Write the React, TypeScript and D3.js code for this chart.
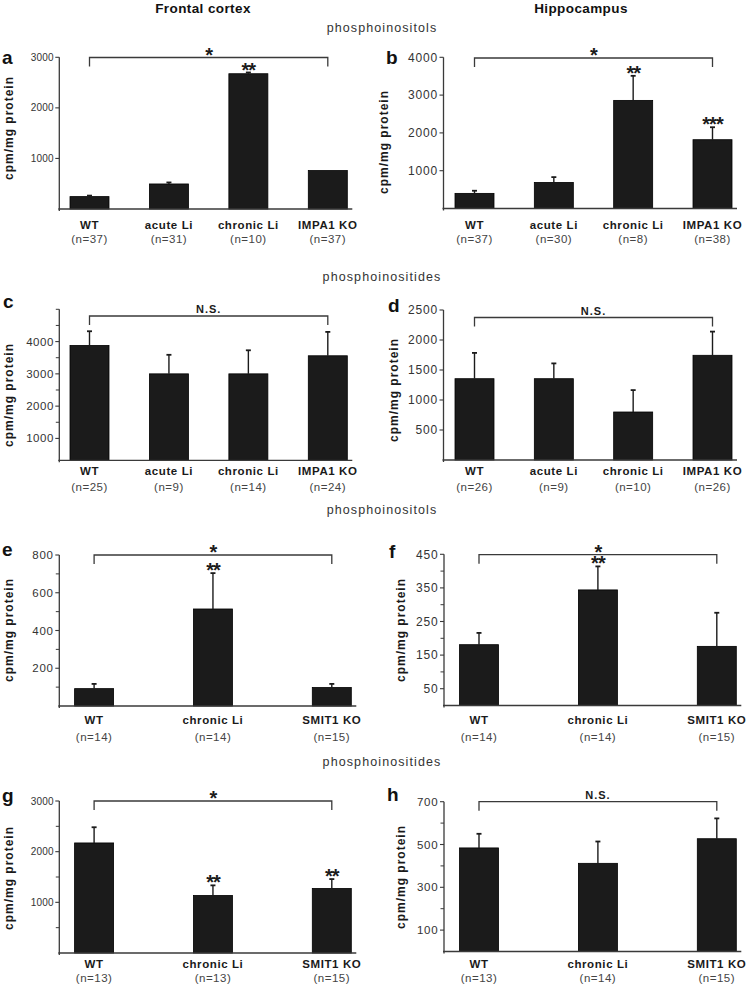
import React from "react";
import * as d3 from "d3";

const FONT = "'Liberation Sans', Arial, Helvetica, sans-serif";

const columnTitles = ["Frontal cortex", "Hippocampus"];
const sectionTitles = ["phosphoinositols", "phosphoinositides", "phosphoinositols", "phosphoinositides"];

// Panel a – frontal cortex phosphoinositols
const aCategories = ["WT", "acute Li", "chronic Li", "IMPA1 KO"];
const aN = ["(n=37)", "(n=31)", "(n=10)", "(n=37)"];
const aValues = [245, 495, 2675, 760];
const aErrors = [20, 30, 25, 0];
const aStars = ["", "", "**", ""];
const aTicks = [1000, 2000, 3000];
const aMinor: number[] = [];

// Panel b – hippocampus phosphoinositols
const bCategories = ["WT", "acute Li", "chronic Li", "IMPA1 KO"];
const bN = ["(n=37)", "(n=30)", "(n=8)", "(n=38)"];
const bValues = [400, 690, 2860, 1820];
const bErrors = [70, 140, 650, 330];
const bStars = ["", "", "**", "***"];
const bTicks = [1000, 2000, 3000, 4000];
const bMinor: number[] = [];

// Panel c – frontal cortex phosphoinositides
const cCategories = ["WT", "acute Li", "chronic Li", "IMPA1 KO"];
const cN = ["(n=25)", "(n=9)", "(n=14)", "(n=24)"];
const cValues = [3880, 3000, 3000, 3560];
const cErrors = [440, 590, 730, 740];
const cStars = ["", "", "", ""];
const cTicks = [1000, 2000, 3000, 4000];
const cMinor = [1500, 2500, 3500, 4500, 5000];

// Panel d – hippocampus phosphoinositides
const dCategories = ["WT", "acute Li", "chronic Li", "IMPA1 KO"];
const dN = ["(n=26)", "(n=9)", "(n=10)", "(n=26)"];
const dValues = [1355, 1355, 800, 1745];
const dErrors = [430, 255, 365, 395];
const dStars = ["", "", "", ""];
const dTicks = [500, 1000, 1500, 2000, 2500];
const dMinor: number[] = [];

// Panel e – frontal cortex phosphoinositols (SMIT1)
const eCategories = ["WT", "chronic Li", "SMIT1 KO"];
const eN = ["(n=14)", "(n=14)", "(n=15)"];
const eValues = [92, 514, 98];
const eErrors = [25, 190, 19];
const eStars = ["", "**", ""];
const eTicks = [200, 400, 600, 800];
const eMinor = [100, 300, 500, 700];

// Panel f – hippocampus phosphoinositols (SMIT1)
const fCategories = ["WT", "chronic Li", "SMIT1 KO"];
const fN = ["(n=14)", "(n=14)", "(n=15)"];
const fValues = [181, 344, 176];
const fErrors = [35, 70, 100];
const fStars = ["", "**", ""];
const fTicks = [50, 150, 250, 350, 450];
const fMinor = [100, 200, 300, 400];

// Panel g – frontal cortex phosphoinositides (SMIT1)
const gCategories = ["WT", "chronic Li", "SMIT1 KO"];
const gN = ["(n=13)", "(n=13)", "(n=15)"];
const gValues = [2172, 1135, 1274];
const gErrors = [310, 200, 185];
const gStars = ["", "**", "**"];
const gTicks = [1000, 2000, 3000];
const gMinor = [500, 1500, 2500];

// Panel h – hippocampus phosphoinositides (SMIT1)
const hCategories = ["WT", "chronic Li", "SMIT1 KO"];
const hN = ["(n=13)", "(n=14)", "(n=15)"];
const hValues = [484, 412, 527];
const hErrors = [66, 102, 95];
const hStars = ["", "", ""];
const hTicks = [100, 300, 500, 700];
const hMinor = [200, 400, 600];

type PanelCfg = {
  letter: string;
  categories: string[];
  ns: string[];
  values: number[];
  errors: number[];
  stars: string[];
  bracketLabel: string;
  domain: [number, number];
  ticks: number[];
  minor: number[];
  axisX: number;
  topY: number;
  baseY: number;
  firstX: number;
  lastX: number;
  bracketY: number;
  tickFont: number;
  tickLs: number;
  letterX: number;
  letterY: number;
  labelX: number;
  labelY: number;
  nameY: number;
  nY: number;
};

const L = { axisX: 59.3, firstX: 89.5, lastX: 327.8 };
const R = { axisX: 443.5, firstX: 474.5, lastX: 712.5 };
const L3 = { axisX: 59.3, firstX: 94.1, lastX: 331.8 };
const R3 = { axisX: 444, firstX: 479, lastX: 716.8 };

const panels: PanelCfg[] = [
  { letter: "a", categories: aCategories, ns: aN, values: aValues, errors: aErrors, stars: aStars, bracketLabel: "*",
    domain: [0, 3000], ticks: aTicks, minor: aMinor, ...L, topY: 57.3, baseY: 209, bracketY: 57.5,
    tickFont: 10, tickLs: 0.2, letterX: 2, letterY: 64, labelX: 12.6, labelY: 128, nameY: 228.5, nY: 243 },
  { letter: "b", categories: bCategories, ns: bN, values: bValues, errors: bErrors, stars: bStars, bracketLabel: "*",
    domain: [0, 4000], ticks: bTicks, minor: bMinor, ...R, topY: 57.3, baseY: 208.5, bracketY: 58,
    tickFont: 12, tickLs: 0.8, letterX: 386, letterY: 64, labelX: 387.5, labelY: 142, nameY: 228.5, nY: 243 },
  { letter: "c", categories: cCategories, ns: cN, values: cValues, errors: cErrors, stars: cStars, bracketLabel: "N.S.",
    domain: [322, 5000], ticks: cTicks, minor: cMinor, ...L, topY: 309.3, baseY: 460.3, bracketY: 316,
    tickFont: 11.5, tickLs: 0.5, letterX: 3, letterY: 307.5, labelX: 12.6, labelY: 395, nameY: 474.5, nY: 490.5 },
  { letter: "d", categories: dCategories, ns: dN, values: dValues, errors: dErrors, stars: dStars, bracketLabel: "N.S.",
    domain: [0, 2500], ticks: dTicks, minor: dMinor, ...R, topY: 310, baseY: 460, bracketY: 317.5,
    tickFont: 12, tickLs: 0.8, letterX: 388, letterY: 312, labelX: 397.6, labelY: 390, nameY: 474.5, nY: 490.5 },
  { letter: "e", categories: eCategories, ns: eN, values: eValues, errors: eErrors, stars: eStars, bracketLabel: "*",
    domain: [0, 800], ticks: eTicks, minor: eMinor, ...L3, topY: 555, baseY: 706, bracketY: 555,
    tickFont: 11.5, tickLs: 0.8, letterX: 2, letterY: 556, labelX: 12.6, labelY: 630, nameY: 724, nY: 740.5 },
  { letter: "f", categories: fCategories, ns: fN, values: fValues, errors: fErrors, stars: fStars, bracketLabel: "*",
    domain: [0, 450], ticks: fTicks, minor: fMinor, ...R3, topY: 554.3, baseY: 705.5, bracketY: 554.7,
    tickFont: 12, tickLs: 0.8, letterX: 389, letterY: 558, labelX: 405, labelY: 630, nameY: 724, nY: 740.5 },
  { letter: "g", categories: gCategories, ns: gN, values: gValues, errors: gErrors, stars: gStars, bracketLabel: "*",
    domain: [0, 3000], ticks: gTicks, minor: gMinor, ...L3, topY: 801, baseY: 953, bracketY: 801,
    tickFont: 10, tickLs: 0.2, letterX: 2, letterY: 801.5, labelX: 12.6, labelY: 878, nameY: 967.5, nY: 982 },
  { letter: "h", categories: hCategories, ns: hN, values: hValues, errors: hErrors, stars: hStars, bracketLabel: "N.S.",
    domain: [0, 700], ticks: hTicks, minor: hMinor, ...R3, topY: 801.7, baseY: 951.5, bracketY: 801.7,
    tickFont: 11.5, tickLs: 0.8, letterX: 387, letterY: 801, labelX: 405, labelY: 877, nameY: 967.5, nY: 982 },
];

const BAR_W = 39;
const CAP_W = 5;
const STAR_SIZE = 20;
const INK = "#1b1b1b";
const AXIS = "#3a3a3a";

function Star({ x, cy, text }: { x: number; cy: number; text: string }) {
  return (
    <text x={x} y={cy + STAR_SIZE * 0.58} textAnchor="middle" fontFamily={FONT} fontWeight="bold"
      fontSize={STAR_SIZE} fill={INK} letterSpacing={-1}>{text}</text>
  );
}

function Panel({ p }: { p: PanelCfg }) {
  const y = d3.scaleLinear().domain(p.domain).range([p.baseY, p.topY]);
  const x = d3.scalePoint<string>().domain(p.categories).range([p.firstX, p.lastX]);
  const axisEnd = p.lastX + BAR_W / 2 + 5;
  const bracketLeg = 9;
  const midX = (p.firstX + p.lastX) / 2;
  return (
    <g>
      <text x={p.letterX} y={p.letterY} fontFamily={FONT} fontWeight="bold" fontSize={19} fill="#111">{p.letter}</text>
      <text transform={`translate(${p.labelX},${p.labelY}) rotate(-90)`} textAnchor="middle" fontFamily={FONT}
        fontWeight="bold" fontSize={12} letterSpacing={1} fill="#1a1a1a">cpm/mg protein</text>
      {/* bars */}
      {p.categories.map((c, i) => {
        const cx = x(c) as number;
        const top = y(p.values[i]);
        const eTop = y(p.values[i] + p.errors[i]);
        return (
          <g key={c}>
            <rect x={cx - BAR_W / 2} y={top} width={BAR_W} height={p.baseY - top} fill={INK} stroke="#000" strokeWidth={0.8} />
            {p.errors[i] > 0 && (
              <g stroke={INK} strokeWidth={1.4}>
                <line x1={cx} x2={cx} y1={top} y2={eTop} />
                <line x1={cx - CAP_W / 2} x2={cx + CAP_W / 2} y1={eTop} y2={eTop} strokeWidth={1.8} />
              </g>
            )}
            {p.stars[i] && <Star x={cx} cy={eTop - 7.5} text={p.stars[i]} />}
          </g>
        );
      })}
      {/* y axis */}
      <line x1={p.axisX} x2={p.axisX} y1={p.topY} y2={p.baseY + 2} stroke={AXIS} strokeWidth={1.3} />
      {p.ticks.map((t) => (
        <g key={"t" + t}>
          <line x1={p.axisX - 4} x2={p.axisX} y1={y(t)} y2={y(t)} stroke={AXIS} strokeWidth={1.1} />
          <text x={p.axisX - 5.5} y={y(t)} dy="0.35em" textAnchor="end" fontFamily={FONT} fontSize={p.tickFont}
            letterSpacing={p.tickLs} fill="#333">{t}</text>
        </g>
      ))}
      {p.minor.map((t) => (
        <line key={"m" + t} x1={p.axisX - 3.5} x2={p.axisX} y1={y(t)} y2={y(t)} stroke={AXIS} strokeWidth={1} />
      ))}
      {/* x axis */}
      <line x1={p.axisX - 1} x2={axisEnd} y1={p.baseY} y2={p.baseY} stroke={AXIS} strokeWidth={1.3} />
      {p.categories.map((c, i) => (
        <g key={"l" + c}>
          <text x={x(c) as number} y={p.nameY} textAnchor="middle" fontFamily={FONT} fontWeight="bold" fontSize={11.5}
            letterSpacing={0.6} fill="#1a1a1a">{c}</text>
          <text x={x(c) as number} y={p.nY} textAnchor="middle" fontFamily={FONT} fontSize={11.5}
            letterSpacing={0.5} fill="#444">{p.ns[i]}</text>
        </g>
      ))}
      {/* significance bracket */}
      <path d={`M${p.firstX},${p.bracketY + bracketLeg}V${p.bracketY}H${p.lastX}V${p.bracketY + bracketLeg}`}
        fill="none" stroke={AXIS} strokeWidth={1.3} />
      {p.bracketLabel === "*" ? (
        <Star x={midX} cy={p.bracketY - 7.5} text="*" />
      ) : (
        <text x={midX} y={p.bracketY - 3} textAnchor="middle" fontFamily={FONT} fontWeight="bold" fontSize={11}
          letterSpacing={1} fill="#1a1a1a">{p.bracketLabel}</text>
      )}
    </g>
  );
}

const sectionY = [32, 281, 514, 765.5];

export default function App() {
  return (
    <svg width={747} height={991} style={{ position: "absolute", left: 0, top: 0, display: "block", background: "#fff" }}>
      <rect width={747} height={991} fill="#fff" />
      <text x={203} y={13} textAnchor="middle" fontFamily={FONT} fontWeight="bold" fontSize={13.5} letterSpacing={0.4} fill="#111">{columnTitles[0]}</text>
      <text x={581} y={13} textAnchor="middle" fontFamily={FONT} fontWeight="bold" fontSize={13.5} letterSpacing={0.4} fill="#111">{columnTitles[1]}</text>
      {sectionTitles.map((s, i) => (
        <text key={i} x={382} y={sectionY[i]} textAnchor="middle" fontFamily={FONT} fontSize={12.5} letterSpacing={1.1} fill="#333">{s}</text>
      ))}
      {panels.map((p) => (
        <Panel key={p.letter} p={p} />
      ))}
    </svg>
  );
}
